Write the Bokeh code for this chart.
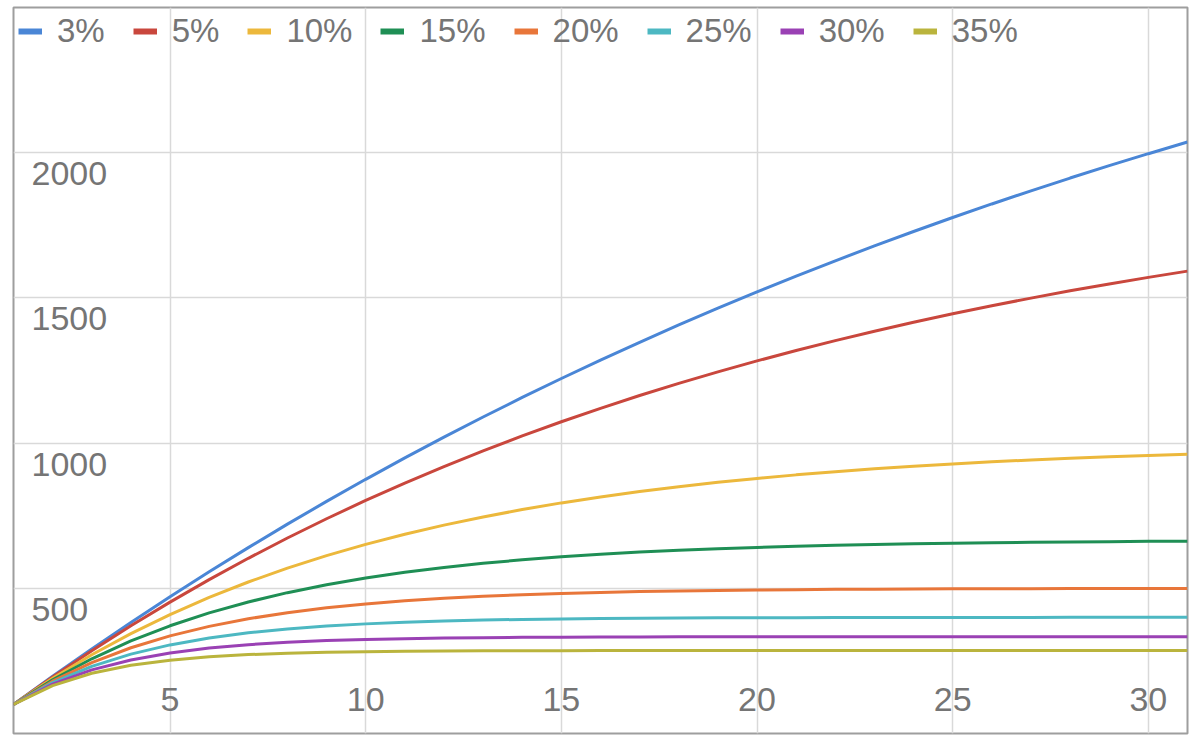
from bokeh.plotting import figure
from bokeh.models import Range1d, FixedTicker, Legend, LegendItem
from bokeh.core.properties import value
from bokeh.embed import file_html
from bokeh.resources import INLINE

periods = list(range(1, 32))

s3 = [100, 197, 291.1, 382.4, 470.9, 556.8, 640.1, 720.9, 799.2, 875.3, 949.0, 1020.5, 1089.9, 1157.2, 1222.5, 1285.8,
      1347.2, 1406.8, 1464.6, 1520.7, 1575.1, 1627.8, 1679.0, 1728.6, 1776.8, 1823.5, 1868.7, 1912.7, 1955.3, 1996.6, 2036.7]
s5 = [100, 195, 285.3, 371.0, 452.4, 529.8, 603.3, 673.2, 739.5, 802.5, 862.4, 919.3, 973.3, 1024.6, 1073.4, 1119.7,
      1163.8, 1205.6, 1245.3, 1283.0, 1318.9, 1352.9, 1385.3, 1416.0, 1445.2, 1473.0, 1499.3, 1524.3, 1548.1, 1570.7, 1592.2]
s10 = [100, 190, 271, 343.9, 409.5, 468.6, 521.7, 569.5, 612.6, 651.3, 686.2, 717.6, 745.8, 771.2, 794.1, 814.7,
       833.2, 849.9, 864.9, 878.4, 890.6, 901.5, 911.4, 920.2, 928.2, 935.4, 941.9, 947.7, 952.9, 957.6, 961.8]
s15 = [100, 185, 257.3, 318.7, 370.9, 415.2, 452.9, 485.0, 512.3, 535.4, 555.1, 571.8, 586.1, 598.2, 608.4, 617.2,
       624.6, 630.9, 636.3, 640.8, 644.7, 648.0, 650.8, 653.2, 655.2, 656.9, 658.4, 659.6, 660.7, 661.6, 662.3]
s20 = [100, 180, 244, 295.2, 336.2, 368.9, 395.1, 416.1, 432.9, 446.3, 457.1, 465.6, 472.5, 478.0, 482.4, 485.9,
       488.7, 491.0, 492.8, 494.2, 495.4, 496.3, 497.0, 497.6, 498.1, 498.5, 498.8, 499.0, 499.2, 499.4, 499.5]
s25 = [100, 175, 231.3, 273.4, 305.1, 328.8, 346.6, 360.0, 370.0, 377.5, 383.1, 387.3, 390.5, 392.9, 394.7, 396.0,
       397.0, 397.7, 398.3, 398.7, 399.0, 399.3, 399.5, 399.6, 399.7, 399.8, 399.8, 399.9, 399.9, 399.9, 399.9]
s30 = [100, 170, 219, 253.3, 277.3, 294.1, 305.9, 314.1, 319.9, 323.9, 326.7, 328.7, 330.1, 331.1, 331.7, 332.2,
       332.6, 332.8, 332.9, 333.1, 333.1, 333.2, 333.2, 333.3, 333.3, 333.3, 333.3, 333.3, 333.3, 333.3, 333.3]
s35 = [100, 165, 207.3, 234.7, 252.6, 264.1, 271.7, 276.6, 279.8, 281.9, 283.2, 284.1, 284.7, 285.0, 285.3, 285.4,
       285.5, 285.6, 285.6, 285.7, 285.7, 285.7, 285.7, 285.7, 285.7, 285.7, 285.7, 285.7, 285.7, 285.7, 285.7]

series_labels = ["3%", "5%", "10%", "15%", "20%", "25%", "30%", "35%"]
series_values = [s3, s5, s10, s15, s20, s25, s30, s35]
series_colors = ["#4a86d6", "#c9473d", "#ecb83c", "#1f8f55", "#e8763a", "#4db8c2", "#9a41b4", "#bab43d"]

x_ticks = [5, 10, 15, 20, 25, 30]
y_ticks = [500, 1000, 1500, 2000]
x_tick_labels = ["5", "10", "15", "20", "25", "30"]
y_tick_labels = ["500", "1000", "1500", "2000"]

FONT = "Liberation Sans"
TXT = "#757575"

p = figure(width=1196, height=742, output_backend="svg", toolbar_location=None,
           x_range=Range1d(1, 31), y_range=Range1d(0, 2500))
p.min_border_left = 13
p.min_border_right = 9
p.min_border_top = 7
p.min_border_bottom = 9
p.xaxis.visible = False
p.yaxis.visible = False
p.xgrid.ticker = FixedTicker(ticks=x_ticks)
p.ygrid.ticker = FixedTicker(ticks=y_ticks)
for g in (p.xgrid, p.ygrid):
    g.grid_line_color = "#d9d9d9"
    g.grid_line_width = 1.5
p.outline_line_color = "#9e9e9e"
p.outline_line_width = 2
p.background_fill_color = "white"
p.border_fill_color = "white"

items = []
for lab, vals, col in zip(series_labels, series_values, series_colors):
    p.line(periods, vals, line_color=col, line_width=3)
    # thicker swatch for the legend only (same data, not drawn in the plot)
    swatch = p.line(periods, vals, line_color=col, line_width=6, line_cap="butt", visible=False)
    items.append(LegendItem(label=lab, renderers=[swatch]))

# tick labels drawn inside the frame
p.text(x=[p.x_range.start] * len(y_ticks), y=y_ticks, text=y_tick_labels,
       x_offset=18, y_offset=21, text_align="left", text_baseline="alphabetic",
       text_font=value(FONT), text_font_size="34px", text_color=TXT)
p.text(x=x_ticks, y=[p.y_range.start] * len(x_ticks), text=x_tick_labels,
       x_offset=0, y_offset=-34, text_align="center", text_baseline="alphabetic",
       text_font=value(FONT), text_font_size="34px", text_color=TXT)

legend = Legend(items=items, orientation="horizontal", location="top_left",
                margin=0, padding=5, glyph_width=24, glyph_height=20,
                label_standoff=15, spacing=28,
                label_text_font=FONT, label_text_font_size="33px", label_text_color=TXT,
                background_fill_alpha=0, border_line_alpha=0)
p.add_layout(legend)

open("out.html", "w").write(file_html(p, INLINE))
